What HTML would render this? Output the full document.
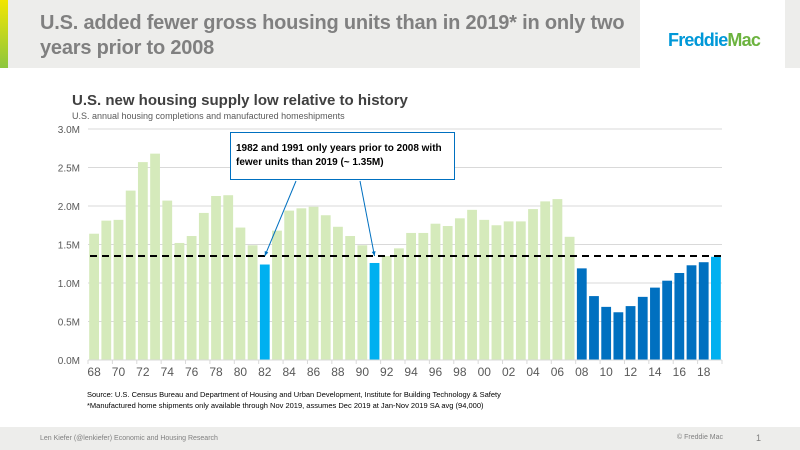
<!DOCTYPE html>
<html><head><meta charset="utf-8"><style>
body{margin:0;width:800px;height:450px;overflow:hidden;background:#fff;font-family:"Liberation Sans",Arial,sans-serif;position:relative}
.abs{position:absolute}
</style></head><body>
<div class="abs" style="left:0;top:0;width:640px;height:68px;background:#ededeb"></div>
<div class="abs" style="left:785px;top:0;width:15px;height:68px;background:#ededeb"></div>
<div class="abs" style="left:0;top:0;width:8px;height:68px;background:linear-gradient(#f2e600,#8cc63f)"></div>
<div class="abs" style="left:40px;top:11px;width:600px;font-size:20px;font-weight:bold;color:#808080;line-height:25px;letter-spacing:-0.2px">U.S. added fewer gross housing units than in 2019* in only two years prior to 2008</div>
<div class="abs" style="left:668px;top:30px;font-size:18px;font-weight:bold;letter-spacing:-0.8px"><span style="color:#0098d8">Freddie</span><span style="color:#6cb33f">Mac</span></div>
<div class="abs" style="left:72px;top:92px;font-size:15px;font-weight:bold;color:#404040">U.S. new housing supply low relative to history</div>
<div class="abs" style="left:72px;top:111px;font-size:9px;color:#595959">U.S. annual housing completions and manufactured homeshipments</div>
<svg class="abs" style="left:0;top:0" width="800" height="450" id="chart"></svg>
<div class="abs" style="left:230px;top:132px;width:225px;height:48px;border:1px solid #0070c0;background:#fff;box-sizing:border-box;padding:9px 0 0 5px;font-size:10px;font-weight:bold;color:#000;line-height:14px">1982 and 1991 only years prior to 2008 with fewer units than 2019 (~ 1.35M)</div>
<div class="abs" style="left:87px;top:389px;font-size:7.5px;color:#000;line-height:11px">Source: U.S. Census Bureau and Department of Housing and Urban Development, Institute for Building Technology &amp; Safety<br>*Manufactured home shipments only available through Nov 2019, assumes Dec 2019 at Jan-Nov 2019 SA avg (94,000)</div>
<div class="abs" style="left:0;top:427px;width:800px;height:23px;background:#ededeb"></div>
<div class="abs" style="left:40px;top:435px;font-size:7px;color:#808080">Len Kiefer (@lenkiefer) Economic and Housing Research</div>
<div class="abs" style="left:677px;top:434px;font-size:7px;color:#808080">© Freddie Mac</div>
<div class="abs" style="left:756px;top:433px;font-size:9px;color:#808080">1</div>
<script>
const years=[];for(let y=1968;y<=2019;y++)years.push(y);
const values=[1.64,1.81,1.82,2.20,2.57,2.68,2.07,1.52,1.61,1.91,2.13,2.14,1.72,1.49,1.24,1.68,1.94,1.97,1.99,1.88,1.73,1.61,1.49,1.26,1.35,1.45,1.65,1.65,1.77,1.74,1.84,1.95,1.82,1.75,1.80,1.80,1.96,2.06,2.09,1.60,1.19,0.83,0.69,0.62,0.70,0.82,0.94,1.03,1.13,1.23,1.27,1.34];
const yTicks=[0,0.5,1.0,1.5,2.0,2.5,3.0];
const refValue=1.35;
const NS='http://www.w3.org/2000/svg';
const svg=document.getElementById('chart');
const x0=88,x1=722,yBase=360,yTop=129,yMax=3.0;
const step=(x1-x0)/years.length;
const xs=i=>x0+i*step;
const ys=v=>yBase-(v/yMax)*(yBase-yTop);
function mk(t,a){const e=document.createElementNS(NS,t);for(const k in a)e.setAttribute(k,a[k]);svg.appendChild(e);return e;}
yTicks.forEach(t=>{
 const g=mk('line',{x1:x0,x2:x1,y1:ys(t),y2:ys(t),stroke:'#d9d9d9','stroke-width':1});
 
 
 const l=mk('text',{x:80,y:ys(t)+4,'text-anchor':'end','font-size':10,fill:'#595959','font-family':'Liberation Sans, sans-serif'});
 l.textContent=t.toFixed(1)+'M';
 
 
});
values.forEach((v,i)=>{
 const yr=years[i];
 let c='#d5eabb';
 if(yr===1982||yr===1991||yr===2019)c='#00b0f0';else if(yr>=2008)c='#0070c0';
 const r=mk('rect',{x:xs(i)+1.2,y:ys(v),width:step-2.4,height:yBase-ys(v),fill:c});
 
 
 if(i%2===0){
  const t=mk('text',{x:xs(i)+step/2,y:376,'text-anchor':'middle','font-size':12,fill:'#595959','font-family':'Liberation Sans, sans-serif'});
  t.textContent=String(yr).slice(2);
  
  
  const tk=mk('line',{x1:xs(i),x2:xs(i),y1:yBase,y2:yBase+4,stroke:'#d9d9d9'});
  
  
 }
});
const tkEnd=mk('line',{x1:x1,x2:x1,y1:yBase,y2:yBase+4,stroke:'#d9d9d9'});


const ax=mk('line',{x1:x0,x2:x1,y1:yBase,y2:yBase,stroke:'#d9d9d9'});


const ref=mk('line',{x1:x0+2,x2:x1,y1:ys(refValue),y2:ys(refValue),stroke:'#000','stroke-width':2,'stroke-dasharray':'7,5'});


function arrow(xa,ya,i,name){
 const xb=xs(i)+step/2,yb=ys(refValue);
 const l=mk('line',{x1:xa,y1:ya,x2:xb,y2:yb,stroke:'#0070c0','stroke-width':1});
 
 
 const ang=Math.atan2(yb-ya,xb-xa),s=5;
 const p=mk('polygon',{points:`${xb},${yb} ${xb-s*Math.cos(ang-0.4)},${yb-s*Math.sin(ang-0.4)} ${xb-s*Math.cos(ang+0.4)},${yb-s*Math.sin(ang+0.4)}`,fill:'#0070c0'});
 
 
}
arrow(296,181,years.indexOf(1982),'arrow-1982');
arrow(360,181,years.indexOf(1991),'arrow-1991');
</script>
</body></html>
